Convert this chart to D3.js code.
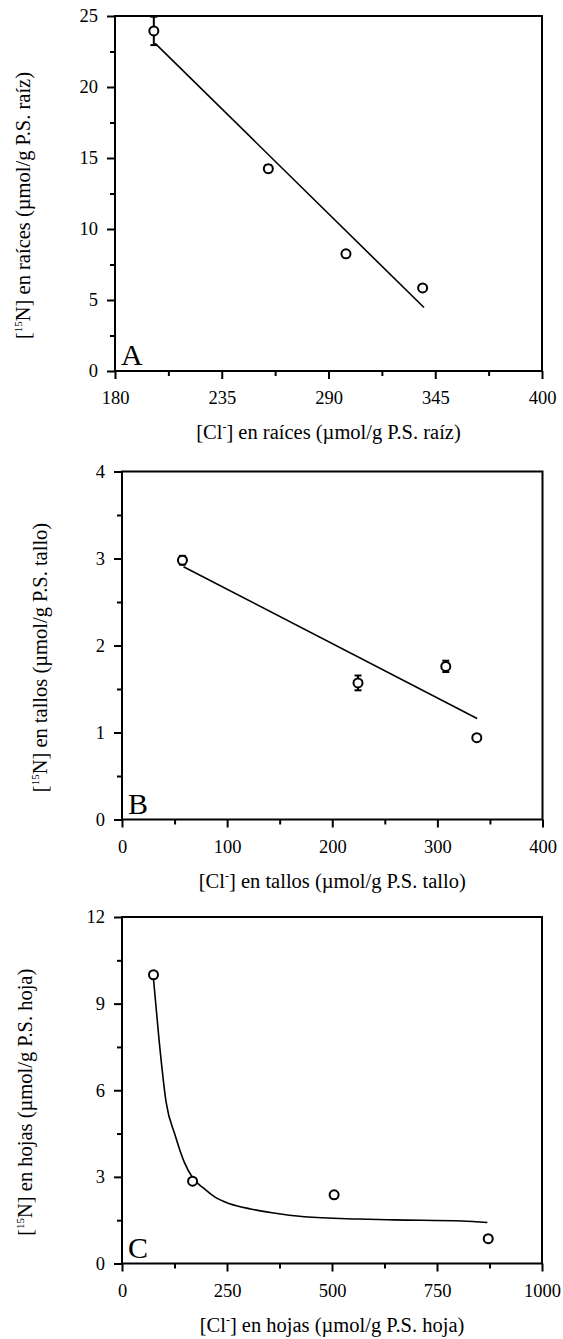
<!DOCTYPE html>
<html><head><meta charset="utf-8">
<script src="https://cdn.jsdelivr.net/npm/d3@7"></script>
<style>
html,body{margin:0;padding:0;background:#fff;}
svg text{font-family:"Liberation Serif","Times New Roman",Times,serif;fill:#000;}
</style></head>
<body>
<svg id="chart" width="563" height="1339"></svg>
<script>
// ---------- Panel A: raíces ----------
const aX = [200, 259, 299, 338.5];
const aY = [23.95, 14.25, 8.25, 5.85];
const aErr = [1.0, 0.25, 0.12, 0.1];
const aFitX = [200.7, 339.2];
const aFitY = [23.07, 4.47];
const aXTicks = [180, 235, 290, 345, 400];
const aXMinor = [207.5, 262.5, 317.5, 372.5];
const aYTicks = [0, 5, 10, 15, 20, 25];
const aYMinor = [2.5, 7.5, 12.5, 17.5, 22.5];

// ---------- Panel B: tallos ----------
const bX = [57.5, 224.5, 308, 337.5];
const bY = [2.98, 1.57, 1.76, 0.94];
const bErr = [0.05, 0.085, 0.065, 0.02];
const bFitX = [58.5, 337.8];
const bFitY = [2.906, 1.16];
const bXTicks = [0, 100, 200, 300, 400];
const bXMinor = [50, 150, 250, 350];
const bYTicks = [0, 1, 2, 3, 4];
const bYMinor = [0.5, 1.5, 2.5, 3.5];

// ---------- Panel C: hojas ----------
const cX = [75, 168, 505, 872];
const cY = [10.0, 2.85, 2.38, 0.86];
const cErr = [0, 0, 0, 0];
const cFitX = [75, 88, 105, 126.5, 148, 169, 195, 220.5, 254.7, 306, 357, 434, 562, 648, 810, 870];
const cFitY = [9.85, 7.78, 5.59, 4.44, 3.52, 2.95, 2.6, 2.31, 2.08, 1.89, 1.76, 1.62, 1.54, 1.51, 1.47, 1.42];
const cXTicks = [0, 250, 500, 750, 1000];
const cXMinor = [125, 375, 625, 875];
const cYTicks = [0, 3, 6, 9, 12];
const cYMinor = [1.5, 4.5, 7.5, 10.5];

const svg = d3.select("#chart");
const FONT = '"Liberation Serif","Times New Roman",Times,serif';

function panel(o) {
  const g = svg.append("g");
  const x = d3.scaleLinear().domain(o.xDomain).range([o.left, o.right]);
  const y = d3.scaleLinear().domain(o.yDomain).range([o.bottom, o.top]);

  const xa = g.append("g").attr("transform", `translate(0,${o.bottom})`)
    .call(d3.axisBottom(x).tickValues(o.xTicks).tickSize(8).tickPadding(12).tickFormat(d3.format("d")));
  const xm = g.append("g").attr("transform", `translate(0,${o.bottom})`)
    .call(d3.axisBottom(x).tickValues(o.xMinor).tickSize(5).tickFormat(""));
  const ya = g.append("g").attr("transform", `translate(${o.left},0)`)
    .call(d3.axisLeft(y).tickValues(o.yTicks).tickSize(8).tickPadding(9).tickFormat(d3.format("d")));
  const ym = g.append("g").attr("transform", `translate(${o.left},0)`)
    .call(d3.axisLeft(y).tickValues(o.yMinor).tickSize(5).tickFormat(""));
  [xa, xm, ya, ym].forEach(a => {
    a.attr("font-family", FONT);
    a.select(".domain").remove();
    a.selectAll("line").attr("stroke", "#000").attr("stroke-width", 2);
    a.selectAll("text").attr("font-size", 18.5);
  });
  xa.selectAll("text").attr("dy", "0.71em");

  // frame
  g.append("rect").attr("x", o.left).attr("y", o.top)
    .attr("width", o.right - o.left).attr("height", o.bottom - o.top)
    .attr("fill", "none").attr("stroke", "#000").attr("stroke-width", 2);

  // fit line
  const pts = o.fitX.map((d, i) => [d, o.fitY[i]]);
  g.append("path").datum(pts)
    .attr("d", d3.line().x(d => x(d[0])).y(d => y(d[1])).curve(o.curve || d3.curveLinear))
    .attr("fill", "none").attr("stroke", "#000").attr("stroke-width", 1.6);

  // error bars
  const data = o.xs.map((d, i) => ({ x: d, y: o.ys[i], e: o.errs[i] }));
  const eb = g.append("g").selectAll("g").data(data.filter(d => d.e > 0)).join("g");
  eb.append("line").attr("x1", d => x(d.x)).attr("x2", d => x(d.x))
    .attr("y1", d => y(d.y - d.e)).attr("y2", d => y(d.y + d.e))
    .attr("stroke", "#000").attr("stroke-width", 2);
  ["-", "+"].forEach(s => {
    eb.append("line").attr("x1", d => x(d.x) - 3.5).attr("x2", d => x(d.x) + 3.5)
      .attr("y1", d => y(s === "-" ? d.y - d.e : d.y + d.e))
      .attr("y2", d => y(s === "-" ? d.y - d.e : d.y + d.e))
      .attr("stroke", "#000").attr("stroke-width", 2);
  });

  // markers
  g.append("g").selectAll("circle").data(data).join("circle")
    .attr("cx", d => x(d.x)).attr("cy", d => y(d.y)).attr("r", 4.5)
    .attr("fill", "#fff").attr("stroke", "#000").attr("stroke-width", 2);

  // panel letter
  g.append("text").attr("x", o.left + 6).attr("y", o.bottom - 6)
    .attr("font-size", 30).text(o.letter);

  // x title
  const xt = g.append("text").attr("x", (o.left + o.right) / 2).attr("y", o.bottom + 68)
    .attr("text-anchor", "middle").attr("font-size", 20.5);
  xt.append("tspan").text("[Cl");
  xt.append("tspan").attr("font-size", 12).attr("dy", -8).text("-");
  xt.append("tspan").attr("dy", 8).text("] en " + o.xName);

  // y title
  const yt = g.append("text")
    .attr("transform", `translate(${o.yTitleX},${(o.top + o.bottom) / 2 + 12}) rotate(-90)`)
    .attr("text-anchor", "middle").attr("font-size", 20.5);
  yt.append("tspan").text("[");
  yt.append("tspan").attr("font-size", 11).attr("dy", -8).text("15");
  yt.append("tspan").attr("dy", 8).text("N] en " + o.yName);
}

panel({
  letter: "A", left: 115, right: 542, top: 16, bottom: 371,
  xDomain: [180, 400], yDomain: [0, 25],
  xTicks: aXTicks, xMinor: aXMinor, yTicks: aYTicks, yMinor: aYMinor,
  xs: aX, ys: aY, errs: aErr, fitX: aFitX, fitY: aFitY,
  xName: "raíces (µmol/g P.S. raíz)", yName: "raíces (µmol/g P.S. raíz)", yTitleX: 30
});
panel({
  letter: "B", left: 122, right: 542.5, top: 471.5, bottom: 819.5,
  xDomain: [0, 400], yDomain: [0, 4],
  xTicks: bXTicks, xMinor: bXMinor, yTicks: bYTicks, yMinor: bYMinor,
  xs: bX, ys: bY, errs: bErr, fitX: bFitX, fitY: bFitY,
  xName: "tallos (µmol/g P.S. tallo)", yName: "tallos (µmol/g P.S. tallo)", yTitleX: 47
});
panel({
  letter: "C", left: 122, right: 542, top: 917, bottom: 1263.5,
  xDomain: [0, 1000], yDomain: [0, 12],
  xTicks: cXTicks, xMinor: cXMinor, yTicks: cYTicks, yMinor: cYMinor,
  xs: cX, ys: cY, errs: cErr, fitX: cFitX, fitY: cFitY, curve: d3.curveMonotoneX,
  xName: "hojas (µmol/g P.S. hoja)", yName: "hojas (µmol/g P.S. hoja)", yTitleX: 32
});
</script>
</body></html>
